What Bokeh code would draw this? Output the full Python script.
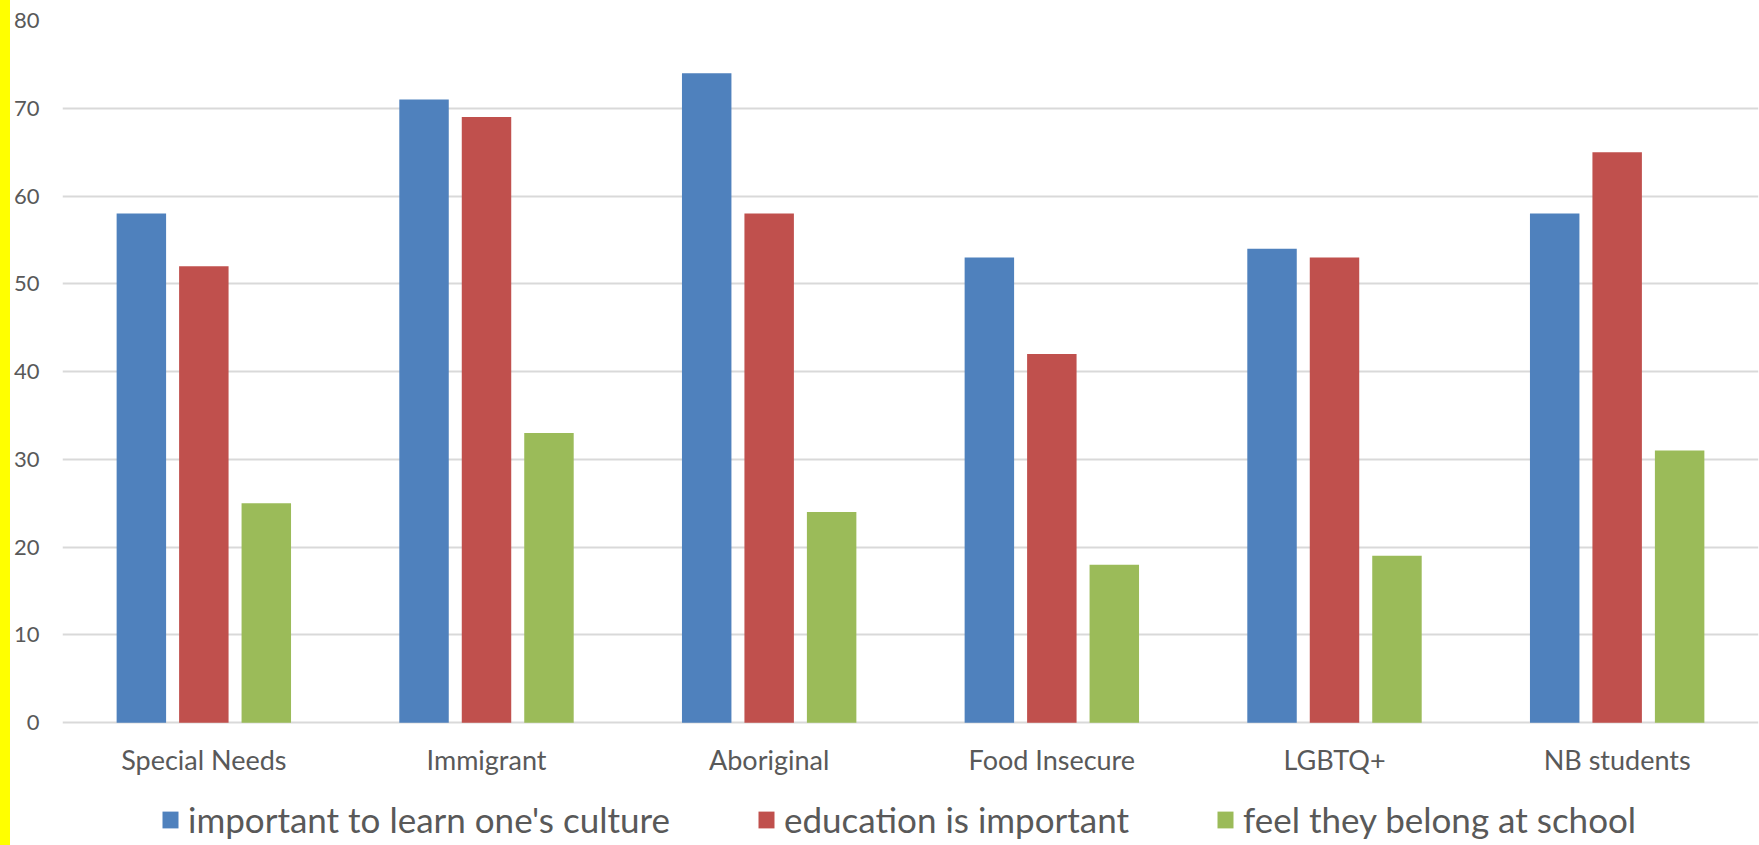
from bokeh.plotting import figure
from bokeh.models import (ColumnDataSource, FactorRange, Range1d, Legend, LegendItem,
                          Spacer, FixedTicker)
from bokeh.transform import dodge
from bokeh.layouts import row
from bokeh.embed import file_html
from bokeh.resources import INLINE

# Student groups and the share (%) agreeing with each statement
groups = ["Special Needs", "Immigrant", "Aboriginal", "Food Insecure", "LGBTQ+", "NB students"]
culture = [58, 71, 74, 53, 54, 58]
education = [52, 69, 58, 42, 53, 65]
belong = [25, 33, 24, 18, 19, 31]
series_names = ["important to learn one's culture", "education is important",
                "feel they belong at school"]
y_ticks = [0, 10, 20, 30, 40, 50, 60, 70, 80]
colors = ["#4F81BD", "#C0504D", "#9BBB59"]

FONT = "Lato"
TEXT = "#595959"

source = ColumnDataSource(dict(group=groups, culture=culture,
                               education=education, belong=belong))

# The frame runs to the bottom of the canvas; the space under 0 holds the
# category labels and the legend.
p = figure(x_range=FactorRange(*groups), y_range=Range1d(-14.0, 80),
           width=1749, height=845, output_backend="svg", toolbar_location=None,
           min_border_left=51, min_border_right=1, min_border_top=20,
           min_border_bottom=0, outline_line_color=None)

renderers = []
for col, off, color in zip(["culture", "education", "belong"], [-0.221, 0.0, 0.221], colors):
    r = p.vbar(x=dodge("group", off, range=p.x_range), top=col, width=0.175,
               source=source, fill_color=color, line_color=None)
    renderers.append(r)

# category labels under the zero line
p.text(x="group", y=-4.15, text="group", source=source, text_align="center",
       text_baseline="middle", text_font_size="27px", text_color=TEXT,
       text_font={"value": FONT})

p.xaxis.visible = False
p.xgrid.grid_line_color = None
p.ygrid.grid_line_color = "#D9D9D9"
p.ygrid.grid_line_width = 2

p.yaxis.ticker = FixedTicker(ticks=y_ticks)
ax = p.yaxis[0]
ax.axis_line_color = None
ax.major_tick_line_color = None
ax.minor_tick_line_color = None
ax.major_tick_out = 0
ax.major_tick_in = 0
ax.minor_tick_out = 0
ax.minor_tick_in = 0
ax.major_label_text_color = TEXT
ax.major_label_text_font = FONT
ax.major_label_text_font_size = "22px"
ax.major_label_standoff = 23

# Horizontal legend (offsets from the frame's bottom-left corner)
legend = Legend(items=[LegendItem(label=n, renderers=[r]) for n, r in zip(series_names, renderers)],
                orientation="horizontal", location=(98, 5),
                label_text_font=FONT, label_text_font_size="35px",
                label_text_color=TEXT, glyph_width=20, glyph_height=21,
                spacing=86, label_standoff=8, border_line_color=None,
                padding=0, margin=0, background_fill_alpha=0)
p.add_layout(legend)

strip = Spacer(width=10, height=845, styles={"background-color": "#FFFF00"})
layout = row(strip, p, spacing=0)

open("out.html", "w").write(file_html(layout, INLINE))
